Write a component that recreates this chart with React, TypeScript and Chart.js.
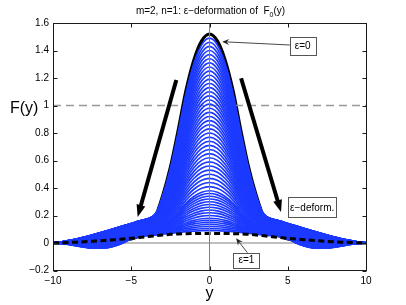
import React, { useEffect, useRef } from "react";
import { Chart, registerables } from "chart.js";

Chart.register(...registerables);

const W = 406;
const H = 305;
const FONT = "'Liberation Sans', Arial, Helvetica, sans-serif";

// half-profile sample positions (curves are symmetric about y = 0)
const halfGrid = [0, 0.5, 1, 1.5, 2, 2.5, 3, 3.5, 4, 4.5, 5, 5.5, 6, 6.5, 7, 7.5, 8, 8.5, 9, 9.5, 10];
// ε = 0 profile F0(y)
const f0Half = [1.52, 1.47, 1.33, 1.11, 0.82, 0.55, 0.34, 0.18, 0.09, 0.05, 0.03, 0.022, 0.016, 0.012, 0.009, 0.007, 0.005, 0.003, 0.002, 0.001, 0];
// ε = 1 profile
const f1Half = [0.07, 0.07, 0.069, 0.068, 0.066, 0.063, 0.058, 0.052, 0.046, 0.04, 0.034, 0.029, 0.024, 0.02, 0.016, 0.012, 0.009, 0.006, 0.004, 0.002, 0];
// broadening of the tails for intermediate ε
const tailRiseHalf = [0, 0, 0, 0, 0, 0.01, 0.035, 0.075, 0.105, 0.115, 0.11, 0.1, 0.088, 0.075, 0.062, 0.049, 0.036, 0.025, 0.015, 0.006, 0];
// undershoot of the tails for large ε
const tailDipHalf = [0, 0, 0, 0, 0, 0, 0, 0, 0, 0.005, 0.025, 0.05, 0.065, 0.072, 0.07, 0.062, 0.048, 0.033, 0.018, 0.006, 0];
// peak heights F(0) of the blue deformed curves
const bluePeaks = [
  1.49, 1.46, 1.43, 1.4, 1.37, 1.34, 1.31, 1.28, 1.25, 1.22, 1.19, 1.16, 1.13, 1.1, 1.07, 1.04, 1.01,
  0.98, 0.95, 0.92, 0.89, 0.86, 0.83, 0.8, 0.77, 0.74, 0.71, 0.68, 0.65, 0.62, 0.59, 0.56, 0.53, 0.5,
  0.47, 0.44, 0.41, 0.38, 0.36, 0.34, 0.32, 0.3, 0.28, 0.26, 0.24, 0.22, 0.2, 0.18, 0.165, 0.15, 0.135,
  0.12, 0.105, 0.09,
];

const xTicks = [-10, -5, 0, 5, 10];
const yTicks = [-0.2, 0, 0.2, 0.4, 0.6, 0.8, 1, 1.2, 1.4, 1.6];
const xRange = [-10, 10];
const yRange = [-0.2, 1.6];
const refLevel = 1;

const titleMain = "m=2, n=1: ε−deformation of  F";
const titleSub = "0";
const titleTail = "(y)";
const yLabel = "F(y)";
const xLabel = "y";

const labelBoxes = [
  { text: "ε=0", x: 5.95, y: 1.433, w: 26, h: 18 },
  { text: "ε−deform.", x: 6.56, y: 0.26, w: 48, h: 20 },
  { text: "ε=1", x: 2.36, y: -0.125, w: 26, h: 15 },
];
const thinArrows = [
  { from: [5.14, 1.44], to: [0.81, 1.464] },
  { from: [2.42, -0.07], to: [1.7, 0.034] },
];
const thickArrows = [
  { from: [-2.12, 1.185], to: [-4.59, 0.19] },
  { from: [2.02, 1.198], to: [4.57, 0.225] },
];

const fullX = [...halfGrid.slice(1).reverse().map((v) => -v), ...halfGrid];
const mirror = (h: number[]) => [...h.slice(1).reverse(), ...h];
const toPts = (vals: number[]) => fullX.map((x, i) => ({ x, y: vals[i] }));

const f0 = mirror(f0Half);
const f1 = mirror(f1Half);
const rise = mirror(tailRiseHalf);
const dip = mirror(tailDipHalf);
const qMax = Math.pow(12 / 13, 12) * (1 / 13);

function blueCurve(p: number) {
  const t = (f0Half[0] - p) / (f0Half[0] - f1Half[0]);
  const q = (Math.pow(t, 12) * (1 - t)) / qMax;
  return f0.map((v, i) => (1 - t) * v + t * f1[i] + 4 * t * (1 - t) * rise[i] - q * dip[i]);
}

const fmt = (v: number) => String(parseFloat(Number(v).toFixed(1))).replace("-", "−");

function drawThickArrow(ctx: CanvasRenderingContext2D, x1: number, y1: number, x2: number, y2: number) {
  const dx = x2 - x1, dy = y2 - y1;
  const len = Math.hypot(dx, dy);
  const ux = dx / len, uy = dy / len;
  const hl = 12, hw = 4.5;
  const bx = x2 - ux * hl, by = y2 - uy * hl;
  ctx.beginPath();
  ctx.moveTo(x1, y1);
  ctx.lineTo(bx + ux * 2, by + uy * 2);
  ctx.lineWidth = 4;
  ctx.strokeStyle = "#000";
  ctx.lineCap = "butt";
  ctx.stroke();
  ctx.beginPath();
  ctx.moveTo(x2, y2);
  ctx.lineTo(bx - uy * hw, by + ux * hw);
  ctx.lineTo(bx + uy * hw, by - ux * hw);
  ctx.closePath();
  ctx.fillStyle = "#000";
  ctx.fill();
}

function drawThinArrow(ctx: CanvasRenderingContext2D, x1: number, y1: number, x2: number, y2: number) {
  const dx = x2 - x1, dy = y2 - y1;
  const len = Math.hypot(dx, dy);
  const ux = dx / len, uy = dy / len;
  const hl = 7, hw = 3;
  const bx = x2 - ux * hl, by = y2 - uy * hl;
  ctx.beginPath();
  ctx.moveTo(x1, y1);
  ctx.lineTo(x2 - ux * 3, y2 - uy * 3);
  ctx.lineWidth = 0.9;
  ctx.strokeStyle = "#333";
  ctx.stroke();
  ctx.beginPath();
  ctx.moveTo(x2, y2);
  ctx.lineTo(bx - uy * hw, by + ux * hw);
  ctx.lineTo(x2 - ux * 4.5, y2 - uy * 4.5);
  ctx.lineTo(bx + uy * hw, by - ux * hw);
  ctx.closePath();
  ctx.fillStyle = "#222";
  ctx.fill();
}

const decorPlugin = {
  id: "decor",
  afterDatasetsDraw(chart: any) {
    const { ctx, chartArea: a, scales } = chart;
    const xs = scales.x, ys = scales.y;
    ctx.save();
    const L = Math.floor(a.left) + 0.5, R = Math.floor(a.right) + 0.5;
    const T = Math.floor(a.top) + 0.5, B = Math.floor(a.bottom) + 0.5;
    ctx.strokeStyle = "#1a1a1a";
    ctx.lineWidth = 1;
    ctx.setLineDash([]);
    ctx.strokeRect(L, T, R - L, B - T);
    ctx.beginPath();
    xTicks.forEach((v) => {
      const px = Math.round(xs.getPixelForValue(v)) + 0.5;
      ctx.moveTo(px, B);
      ctx.lineTo(px, B - 4);
      ctx.moveTo(px, T);
      ctx.lineTo(px, T + 4);
    });
    yTicks.forEach((v) => {
      const py = Math.round(ys.getPixelForValue(v)) + 0.5;
      ctx.moveTo(L, py);
      ctx.lineTo(L + 4, py);
      ctx.moveTo(R, py);
      ctx.lineTo(R - 4, py);
    });
    ctx.stroke();
    thickArrows.forEach((ar) => {
      drawThickArrow(
        ctx,
        xs.getPixelForValue(ar.from[0]), ys.getPixelForValue(ar.from[1]),
        xs.getPixelForValue(ar.to[0]), ys.getPixelForValue(ar.to[1])
      );
    });
    thinArrows.forEach((ar) => {
      drawThinArrow(
        ctx,
        xs.getPixelForValue(ar.from[0]), ys.getPixelForValue(ar.from[1]),
        xs.getPixelForValue(ar.to[0]), ys.getPixelForValue(ar.to[1])
      );
    });
    ctx.font = `10px ${FONT}`;
    ctx.textAlign = "center";
    ctx.textBaseline = "middle";
    labelBoxes.forEach((b) => {
      const cx = xs.getPixelForValue(b.x), cy = ys.getPixelForValue(b.y);
      const bx = Math.round(cx - b.w / 2) + 0.5, by = Math.round(cy - b.h / 2) + 0.5;
      ctx.fillStyle = "#fff";
      ctx.fillRect(bx, by, b.w, b.h);
      ctx.strokeStyle = "#555";
      ctx.lineWidth = 1;
      ctx.strokeRect(bx, by, b.w, b.h);
      ctx.fillStyle = "#000";
      ctx.fillText(b.text, cx, cy + 0.5);
    });
    ctx.restore();
  },
  afterDraw(chart: any) {
    const { ctx, chartArea: a } = chart;
    ctx.save();
    ctx.fillStyle = "#000";
    ctx.textBaseline = "alphabetic";
    ctx.textAlign = "left";
    ctx.font = `10px ${FONT}`;
    const wMain = ctx.measureText(titleMain).width;
    const wTail = ctx.measureText(titleTail).width;
    ctx.font = `7px ${FONT}`;
    const wSub = ctx.measureText(titleSub).width;
    const total = wMain + wSub + wTail;
    const cx = (a.left + a.right) / 2 + 1;
    const x0 = cx - total / 2;
    ctx.font = `10px ${FONT}`;
    ctx.fillText(titleMain, x0, 14);
    ctx.font = `7px ${FONT}`;
    ctx.fillText(titleSub, x0 + wMain, 17);
    ctx.font = `10px ${FONT}`;
    ctx.fillText(titleTail, x0 + wMain + wSub, 14);
    ctx.font = `16px ${FONT}`;
    ctx.fillText(yLabel, 10, 112.5);
    ctx.textAlign = "center";
    ctx.fillText(xLabel, (a.left + a.right) / 2, 297.5);
    ctx.restore();
  },
};

export default function App() {
  const ref = useRef<HTMLCanvasElement | null>(null);

  useEffect(() => {
    if (!ref.current) return;
    const blue = "rgb(28,58,255)";
    const datasets: any[] = [];
    datasets.push({
      data: [{ x: 0, y: yRange[0] }, { x: 0, y: yRange[1] }],
      borderColor: "#808080",
      borderWidth: 1,
      tension: 0,
    });
    datasets.push({
      data: toPts(f1),
      borderColor: "#000",
      borderWidth: 3,
      borderDash: [6, 3.5],
      cubicInterpolationMode: "monotone",
    });
    bluePeaks.forEach((p) => {
      datasets.push({
        data: toPts(blueCurve(p)),
        borderColor: blue,
        borderWidth: 1.7,
        cubicInterpolationMode: "monotone",
      });
    });
    datasets.push({
      data: [{ x: xRange[0], y: 0 }, { x: xRange[1], y: 0 }],
      borderColor: "#808080",
      borderWidth: 1,
      tension: 0,
    });
    datasets.push({
      data: [{ x: xRange[0], y: refLevel }, { x: xRange[1], y: refLevel }],
      borderColor: "#999",
      borderWidth: 1.6,
      borderDash: [8, 5],
      tension: 0,
    });
    datasets.push({
      data: toPts(f0),
      borderColor: "#000",
      borderWidth: 3.2,
      cubicInterpolationMode: "monotone",
    });

    const chart = new Chart(ref.current, {
      type: "line",
      data: { datasets },
      options: {
        animation: false,
        responsive: false,
        devicePixelRatio: 1,
        layout: { padding: { top: 23, right: 40, left: 0, bottom: 0 } },
        elements: { point: { radius: 0 }, line: { fill: false } },
        plugins: { legend: { display: false }, tooltip: { enabled: false }, title: { display: false } },
        scales: {
          x: {
            type: "linear",
            min: xRange[0],
            max: xRange[1],
            grid: { display: false, drawTicks: false },
            border: { display: false },
            afterFit: (s: any) => { s.height = 34.5; },
            afterBuildTicks: (s: any) => { s.ticks = xTicks.map((v) => ({ value: v })); },
            ticks: {
              padding: 5,
              color: "#000",
              font: { family: FONT, size: 10 },
              callback: (v: any) => fmt(v),
              maxRotation: 0,
            },
          },
          y: {
            type: "linear",
            min: yRange[0],
            max: yRange[1],
            grid: { display: false, drawTicks: false },
            border: { display: false },
            afterFit: (s: any) => { s.width = 53; },
            afterBuildTicks: (s: any) => { s.ticks = yTicks.map((v) => ({ value: v })); },
            ticks: {
              padding: 4,
              color: "#000",
              font: { family: FONT, size: 10 },
              callback: (v: any) => fmt(v),
            },
          },
        },
      },
      plugins: [decorPlugin],
    });
    return () => chart.destroy();
  }, []);

  return (
    <div style={{ position: "fixed", left: 0, top: 0, width: W, height: H, background: "#fff" }}>
      <canvas ref={ref} width={W} height={H} style={{ display: "block" }} />
    </div>
  );
}
